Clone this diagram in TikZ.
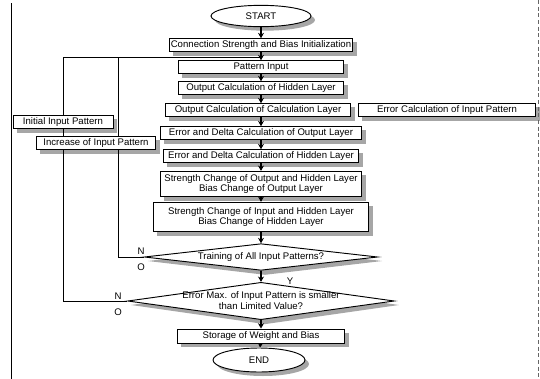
\documentclass[tikz,border=0pt]{standalone}
\usepackage{fontspec}
\setmainfont{Liberation Sans}
\usetikzlibrary{arrows.meta,shapes.geometric,backgrounds}

\begin{document}
\begin{tikzpicture}[x=0.75pt,y=0.75pt,>={Stealth[length=4pt,width=4.5pt]},
    every node/.style={font=\fontsize{7.2}{8.2}\selectfont},
    shadowfill/.style={fill=black!35},
    procbox/.style={draw,line width=0.7pt,fill=white,inner sep=1.2pt,minimum height=9.5pt,align=center},
    terminal/.style={draw,line width=0.7pt,ellipse,fill=white,inner sep=0pt},
    decision/.style={draw,line width=0.7pt,diamond,fill=white,inner sep=0pt},
    flow/.style={->,line width=0.8pt}]
    \useasboundingbox (0,0) rectangle (540,-379);
    \draw[thin] (11,-3) -- (11,-379);
    \draw[thin,densely dashed,black!60] (538,0) -- (538,-379);
    \node[terminal,minimum width=75pt,minimum height=16pt] (start) at (261,-16) {START};
    \node[procbox,minimum width=125pt] (init) at (261,-45) {Connection Strength and Bias Initialization};
    \node[procbox,minimum width=124pt] (pinput) at (261,-67) {Pattern Input};
    \node[procbox,minimum width=124pt] (outhid) at (261,-88) {Output Calculation of Hidden Layer};
    \node[procbox,minimum width=139pt] (outcalc) at (258,-110) {Output Calculation of Calculation Layer};
    \node[procbox,minimum width=133pt] (errin) at (447,-110) {Error Calculation of Input Pattern};
    \node[procbox,minimum width=151pt] (deout) at (261,-133) {Error and Delta Calculation of Output Layer};
    \node[procbox,minimum width=146pt] (dehid) at (261,-156) {Error and Delta Calculation of Hidden Layer};
    \node[procbox,minimum width=151pt,minimum height=19pt] (scout) at (261,-184) {Strength Change of Output and Hidden Layer\\Bias Change of Output Layer};
    \node[procbox,minimum width=161pt,minimum height=22pt] (schid) at (261,-217) {Strength Change of Input and Hidden Layer\\Bias Change of Hidden Layer};
    \node[decision,minimum width=175pt,minimum height=20pt] (train) at (261,-257) {};
    \node (traintxt) at (train) {Training of All Input Patterns?};
    \node[decision,minimum width=200pt,minimum height=28pt] (maxerr) at (261,-301) {};
    \node[align=center] (maxerrtxt) at (maxerr) {Error Max. of Input Pattern is smaller\\than Limited Value?};
    \node[procbox,minimum width=125pt,minimum height=10.5pt] (store) at (261,-336) {Storage of Weight and Bias};
    \node[terminal,minimum width=69pt,minimum height=18pt] (end) at (259,-360) {END};
    \node[procbox,minimum width=75pt] (initpat) at (63,-122) {Initial Input Pattern};
    \node[procbox,minimum width=89pt] (incpat) at (96,-143) {Increase of Input Pattern};
    \node (trainN) at (141,-251) {N};
    \node (trainO) at (141,-267) {O};
    \node (maxerrN) at (118,-296) {N};
    \node (maxerrO) at (118,-312) {O};
    \node (trainY) at (290,-281) {Y};
    \coordinate (join) at (261,-57);
    \begin{pgfonlayer}{background}
        \foreach \nd in {init,pinput,outhid,outcalc,errin,deout,dehid,scout,schid,store,initpat,incpat}
            \fill[shadowfill] ([shift={(3pt,-3pt)}]\nd.south west) rectangle ([shift={(3pt,-3pt)}]\nd.north east);
        \foreach \nd in {train,maxerr}
            \fill[shadowfill] ([shift={(3pt,-3pt)}]\nd.north) -- ([shift={(3pt,-3pt)}]\nd.east)
                -- ([shift={(3pt,-3pt)}]\nd.south) -- ([shift={(3pt,-3pt)}]\nd.west) -- cycle;
        \fill[shadowfill] ([shift={(3pt,-3pt)}]start.center) ellipse [x radius=37.5pt,y radius=8pt];
        \fill[shadowfill] ([shift={(3pt,-3pt)}]end.center) ellipse [x radius=34.5pt,y radius=9pt];
        \draw[flow] (start) -- (init);
        \draw[flow] (init) -- (pinput);
        \draw[flow] (pinput) -- (outhid);
        \draw[flow] (outhid) -- (outcalc.north -| outhid);
        \draw[flow] (outcalc.south -| outhid) -- (deout);
        \draw[flow] (deout) -- (dehid);
        \draw[flow] (dehid) -- (scout);
        \draw[flow] (scout) -- (schid);
        \draw[flow] (schid) -- (train);
        \draw[flow] (train) -- (maxerr);
        \draw[flow] (maxerr) -- (store);
        \draw[flow] (store) -- (end);
        \draw[line width=0.7pt] (train.west) -- ++(-25,0) |- (join);
        \draw[line width=0.7pt] (maxerr.west) -| (join -| initpat) -- (join);
    \end{pgfonlayer}
\end{tikzpicture}
\end{document}
